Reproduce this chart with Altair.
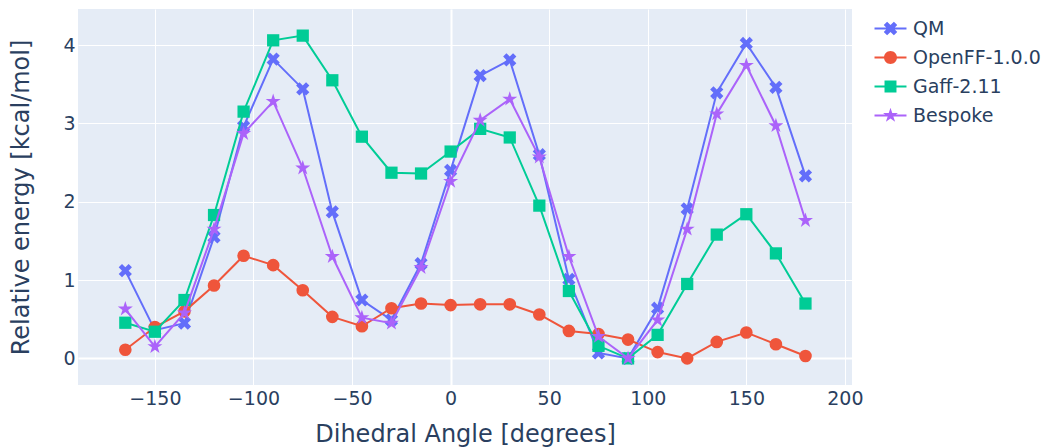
import altair as alt
import pandas as pd

angles = [-165, -150, -135, -120, -105, -90, -75, -60, -45, -30, -15, 0,
          15, 30, 45, 60, 75, 90, 105, 120, 135, 150, 165, 180]
qm = [1.12, 0.36, 0.45, 1.55, 2.96, 3.82, 3.44, 1.87, 0.745, 0.49, 1.21, 2.40,
      3.61, 3.81, 2.60, 1.01, 0.07, 0.0, 0.64, 1.91, 3.39, 4.02, 3.46, 2.33]
openff = [0.11, 0.40, 0.60, 0.93, 1.31, 1.19, 0.87, 0.53, 0.41, 0.64, 0.70, 0.68,
          0.69, 0.69, 0.56, 0.35, 0.31, 0.24, 0.08, 0.0, 0.21, 0.33, 0.18, 0.03]
gaff = [0.455, 0.34, 0.745, 1.83, 3.15, 4.06, 4.12, 3.55, 2.83, 2.37, 2.36, 2.64,
        2.93, 2.82, 1.95, 0.86, 0.16, 0.0, 0.30, 0.95, 1.58, 1.84, 1.34, 0.70]
bespoke = [0.63, 0.15, 0.58, 1.65, 2.87, 3.28, 2.43, 1.30, 0.52, 0.45, 1.16, 2.26,
           3.04, 3.31, 2.57, 1.30, 0.28, 0.0, 0.49, 1.65, 3.12, 3.74, 2.97, 1.76]

names = ["QM", "OpenFF-1.0.0", "Gaff-2.11", "Bespoke"]
series = [qm, openff, gaff, bespoke]
colors = ["#636EFA", "#EF553B", "#00CC96", "#AB63FA"]

x_ticks = [-150, -100, -50, 0, 50, 100, 150, 200]
y_ticks = [0, 1, 2, 3, 4]

# marker paths (normalized to [-1, 1])
X_PATH = ("M0,0.5L0.5,1L1,0.5L0.5,0L1,-0.5L0.5,-1L0,-0.5L-0.5,-1L-1,-0.5"
          "L-0.5,0L-1,0.5L-0.5,1Z")
STAR_PATH = ("M0.225,-0.309H0.951L0.363,0.118L0.588,0.809L0,0.382L-0.588,0.809"
             "L-0.363,0.118L-0.951,-0.309H-0.225L0,-1Z")
shapes = [X_PATH, "circle", "square", STAR_PATH]
sizes = [175, 160, 150, 250]

# legend symbol paths: marker + line segment
L = 2.46
T = 0.16
LINE_CW = f"M{-L},{-T}H{L}V{T}H{-L}Z"
LINE_CCW = f"M{-L},{-T}V{T}H{L}V{-T}Z"
leg_x = ("M0,0.52L0.52,1.04L1.04,0.52L0.52,0L1.04,-0.52L0.52,-1.04L0,-0.52"
         "L-0.52,-1.04L-1.04,-0.52L-0.52,0L-1.04,0.52L-0.52,1.04Z" + LINE_CCW)
leg_circle = "M1,0A1,1 0 1,1 -1,0A1,1 0 1,1 1,0Z" + LINE_CW
leg_square = "M-0.92,-0.92H0.92V0.92H-0.92Z" + LINE_CW
leg_star = ("M0.27,-0.371H1.141L0.436,0.142L0.706,0.971L0,0.458L-0.706,0.971"
            "L-0.436,0.142L-1.141,-0.371H-0.27L0,-1.2Z" + LINE_CW)
legend_paths = [leg_x, leg_circle, leg_square, leg_star]
shape_expr = "".join(
    f"datum.value === '{n}' ? '{p}' : " for n, p in zip(names[:-1], legend_paths[:-1])
) + f"'{legend_paths[-1]}'"

rows = []
for n, vals in zip(names, series):
    for a, v in zip(angles, vals):
        rows.append({"angle": a, "energy": v, "series": n})
df = pd.DataFrame(rows)

FONT = "DejaVu Sans"
TXT = "#2a3f5f"

x_enc = alt.X("angle:Q",
              scale=alt.Scale(domain=[-189, 203.6], nice=False, zero=False),
              axis=alt.Axis(title="Dihedral Angle [degrees]", values=x_ticks,
                            labelPadding=4, titlePadding=14))
y_enc = alt.Y("energy:Q",
              scale=alt.Scale(domain=[-0.34, 4.46], nice=False, zero=False),
              axis=alt.Axis(title="Relative energy [kcal/mol]", values=y_ticks,
                            labelPadding=3, titlePadding=29))

color_scale = alt.Scale(domain=names, range=colors)

base = alt.Chart(df)
layers = []
for i, n in enumerate(names):
    sub = base.transform_filter(alt.datum.series == n)
    line = sub.mark_line(strokeWidth=2, color=colors[i]).encode(x=x_enc, y=y_enc)
    if i == len(names) - 1:
        color = alt.Color("series:N", scale=color_scale,
                          legend=alt.Legend(
                              title=None, orient="none", legendX=803, legendY=10,
                              symbolSize=169, symbolStrokeWidth=0,
                              symbolType=alt.ExprRef(shape_expr),
                              labelFont=FONT, labelFontSize=19, labelColor=TXT,
                              labelOffset=13, rowPadding=9, padding=0))
    else:
        color = alt.value(colors[i])
    pts = sub.mark_point(filled=True, opacity=1, strokeWidth=0).encode(
        x=x_enc, y=y_enc, color=color,
        shape=alt.value(shapes[i]), size=alt.value(sizes[i]))
    layers += [line, pts]

chart = alt.layer(*layers).properties(
    width=774, height=376,
    autosize=alt.AutoSizeParams(type="none"),
    padding={"left": 70, "top": 1, "right": 189, "bottom": 63},
    background="white",
).configure_view(
    fill="#E5ECF6", stroke=None
).configure_axis(
    domain=False, ticks=False, tickSize=0,
    gridColor="white",
    gridWidth={"condition": {"test": "datum.value === 0", "value": 2}, "value": 1},
    labelFont=FONT, labelFontSize=19, labelColor=TXT,
    titleFont=FONT, titleFontSize=24, titleColor=TXT, titleFontWeight="normal",
)

chart.save("out.html", embed_options={"renderer": "svg", "actions": False})
